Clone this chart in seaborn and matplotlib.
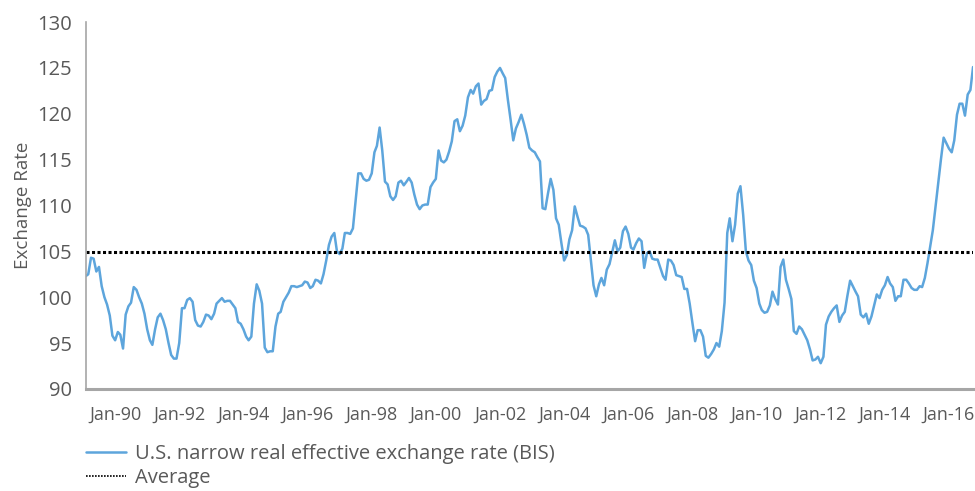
import seaborn as sns
import matplotlib.pyplot as plt
import matplotlib.dates as mdates
import pandas as pd
import numpy as np

# monthly values, Feb 1989 onwards
start_month = '1989-02-01'
rate = [
    102.3, 102.5, 104.3, 104.2, 102.8, 103.3, 101.2, 100.0, 99.2, 98.0, 95.8,  # 1989
    95.3, 96.2, 95.9, 94.4, 98.1, 99.0, 99.4, 101.1, 100.8, 100.0, 99.3, 98.2,  # 1990
    96.5, 95.3, 94.8, 96.5, 97.8, 98.2, 97.5, 96.5, 95.0, 93.7, 93.3, 93.3,  # 1991
    95.0, 98.8, 98.8, 99.7, 99.9, 99.5, 97.5, 96.9, 96.8, 97.3, 98.1, 98.0,  # 1992
    97.6, 98.2, 99.3, 99.6, 99.9, 99.5, 99.6, 99.6, 99.2, 98.8, 97.3, 97.1,  # 1993
    96.5, 95.7, 95.3, 95.7, 99.3, 101.4, 100.7, 99.3, 94.5, 94.0, 94.1, 94.1,  # 1994
    96.8, 98.2, 98.4, 99.5, 100.0, 100.5, 101.2, 101.2, 101.1, 101.2, 101.3, 101.7,  # 1995
    101.6, 101.0, 101.2, 101.9, 101.8, 101.5, 102.5, 104.0, 105.7, 106.6, 107.0, 105.0,  # 1996
    104.7, 105.3, 107.0, 107.0, 106.9, 107.5, 110.5, 113.5, 113.5, 112.9, 112.7, 112.8,  # 1997
    113.5, 115.8, 116.5, 118.5, 116.0, 112.6, 112.3, 111.0, 110.6, 111.0, 112.5, 112.7,  # 1998
    112.2, 112.6, 113.0, 112.5, 111.2, 110.1, 109.6, 110.0, 110.1, 110.1, 112.0, 112.5,  # 1999
    112.9, 116.0, 114.9, 114.7, 115.0, 115.9, 117.0, 119.2, 119.4, 118.1, 118.7, 119.8,  # 2000
    121.8, 122.6, 122.2, 123.0, 123.3, 121.0, 121.4, 121.6, 122.5, 122.6, 124.0, 124.6,  # 2001
    125.0, 124.4, 123.9, 121.5, 119.4, 117.1, 118.4, 119.1, 119.9, 118.9, 117.7, 116.3,  # 2002
    116.0, 115.8, 115.3, 114.8, 109.7, 109.6, 111.3, 112.9, 111.7, 108.6, 107.9, 105.9,  # 2003
    104.0, 104.6, 106.3, 107.3, 109.9, 108.8, 107.8, 107.7, 107.5, 106.8, 104.0, 101.3,  # 2004
    100.1, 101.4, 102.1, 101.3, 103.0, 103.6, 104.9, 106.2, 105.0, 105.4, 107.2, 107.7,  # 2005
    106.9, 105.4, 105.2, 105.9, 106.4, 106.1, 103.2, 104.8, 105.0, 104.2, 104.1, 104.1,  # 2006
    103.2, 102.3, 101.9, 104.1, 104.0, 103.5, 102.4, 102.3, 102.2, 100.9, 100.9, 99.3,  # 2007
    97.2, 95.2, 96.4, 96.4, 95.7, 93.6, 93.4, 93.8, 94.3, 95.0, 94.6, 96.3,  # 2008
    99.4, 107.0, 108.6, 106.1, 107.9, 111.3, 112.1, 109.0, 105.0, 104.0, 103.5, 101.8,  # 2009
    101.0, 99.3, 98.6, 98.3, 98.4, 99.1, 100.6, 99.8, 99.2, 103.3, 104.1, 101.9,  # 2010
    100.9, 99.8, 96.3, 96.0, 96.8, 96.5, 95.9, 95.3, 94.3, 93.1, 93.2, 93.5,  # 2011
    92.8, 93.5, 97.0, 97.9, 98.4, 98.8, 99.1, 97.3, 98.0, 98.4, 100.2, 101.8,  # 2012
    101.2, 100.6, 100.1, 98.1, 97.8, 98.2, 97.1, 97.9, 99.1, 100.3, 99.9, 100.8,  # 2013
    101.3, 102.2, 101.5, 101.1, 99.6, 100.1, 100.1, 101.9, 101.9, 101.5, 101.0, 100.8,  # 2014
    100.8, 101.2, 101.1, 102.1, 103.7, 105.5, 107.3, 109.9, 112.6, 115.0, 117.4, 116.8,  # 2015
    116.2, 115.8, 117.1, 119.9, 121.1, 121.1, 119.8, 122.1, 122.6, 125.1,  # 2016
]
average = 104.9

series_label = 'U.S. narrow real effective exchange rate (BIS)'
average_label = 'Average'
y_label = 'Exchange Rate'
y_ticks = [90, 95, 100, 105, 110, 115, 120, 125, 130]
x_tick_years = list(range(1990, 2017, 2))

dates = pd.date_range(start_month, periods=len(rate), freq='MS')
df = pd.DataFrame({'date': dates, 'rate': rate})

sns.set_style('white')
plt.rcParams['font.family'] = ['Open Sans', 'DejaVu Sans']
text_grey = '#595959'

fig = plt.figure(figsize=(9.75, 4.91), dpi=100)
ax = fig.add_axes([0.088, 0.208, 0.91, 0.747])

sns.lineplot(data=df, x='date', y='rate', ax=ax, color='#5DA5DC', lw=1.8,
             label=series_label)
ax.axhline(average, color='black', ls=(0, (1, 0.8)), lw=2.2, label=average_label)

ax.set_xlim(dates[0], dates[-1])
ax.set_ylim(90, 130)
ax.set_yticks(y_ticks)
ax.set_xticks([pd.Timestamp(f'{y}-01-01') for y in x_tick_years])
ax.xaxis.set_major_formatter(mdates.DateFormatter('%b-%y'))
ax.tick_params(axis='both', length=0, colors=text_grey)
ax.tick_params(axis='y', pad=10, labelsize=14.5)
ax.tick_params(axis='x', pad=12, labelsize=13)
ax.set_xlabel('')
ax.set_ylabel(y_label, fontsize=13.5, color=text_grey, labelpad=4)

for side in ['top', 'right']:
    ax.spines[side].set_visible(False)
ax.spines['left'].set_color('#A6A6A6')
ax.spines['left'].set_linewidth(1.2)
ax.spines['bottom'].set_color('#A6A6A6')
ax.spines['bottom'].set_linewidth(2.2)

leg = ax.legend(loc='upper left', bbox_to_anchor=(0.088, 0.096),
                bbox_transform=fig.transFigure, frameon=False, fontsize=14.5,
                handlelength=2.0, handletextpad=0.45, labelspacing=0.22,
                borderpad=0, borderaxespad=0, labelcolor=text_grey)
leg.get_lines()[1].set_linewidth(1.2)

fig.savefig('out.png', dpi=100)
